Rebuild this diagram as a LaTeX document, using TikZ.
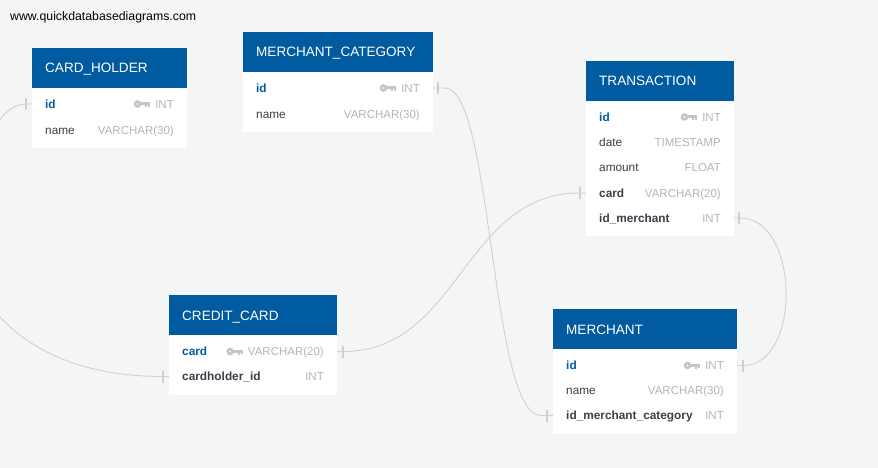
\documentclass[tikz,border=0pt]{standalone}
\usepackage{fontspec}
\setmainfont{Liberation Sans}
\definecolor{pagebg}{HTML}{F4F6F5}
\definecolor{headblue}{HTML}{005BA1}
\definecolor{rowdark}{HTML}{39404A}
\definecolor{typegrey}{HTML}{B2B6BA}
\definecolor{keygrey}{HTML}{C2C6CC}
\definecolor{linkgrey}{HTML}{CDD1D0}
\tikzset{
  x=1pt,y=-1pt,
  tablebody/.style={fill=white,draw=none,inner sep=0pt,anchor=north west,minimum height=#1},
  tablehead/.style={fill=headblue,draw=none,inner sep=0pt,anchor=north west,minimum height=40pt,minimum width=#1},
  tabletitle/.style={inner sep=0pt,anchor=base west,text=white,font=\fontsize{13.55}{16}\selectfont},
  fieldname/.style={inner sep=0pt,anchor=base west,text=rowdark,font=\fontsize{11.8}{14}\selectfont},
  fieldfk/.style={inner sep=0pt,anchor=base west,text=rowdark,font=\fontsize{11.85}{14}\selectfont\bfseries},
  fieldpk/.style={inner sep=0pt,anchor=base west,text=headblue,font=\fontsize{11.85}{14}\selectfont\bfseries},
  fieldtype/.style={inner sep=0pt,anchor=base east,text=typegrey,font=\fontsize{11.5}{14}\selectfont},
  link/.style={draw=linkgrey,line width=0.9pt},
  tick/.style={draw=linkgrey,line width=1.1pt},
  keyring/.style={draw=keygrey,line width=2.6pt,fill=none},
  keyshaft/.style={draw=keygrey,line width=3pt},
  keytooth/.style={draw=keygrey,line width=1.8pt},
}
% \keyicon{base west anchor of the type text}
\newcommand{\keyicon}[1]{%
  \path (#1) ++(-5,-4.3) coordinate (kr);
  \draw[keyring] (kr) ++(-12.6,0) circle (2.4);
  \draw[keyshaft] (kr) ++(-9.5,-0.3) -- ++(9.5,0);
  \draw[keytooth] (kr) ++(-3.8,0) -- ++(0,3.2);
  \draw[keytooth] (kr) ++(-1,0) -- ++(0,2.8);
}
\begin{document}
\begin{tikzpicture}
\useasboundingbox (0,0) rectangle (878,468);
\clip (0,0) rectangle (878,468);
\fill[pagebg] (0,0) rectangle (878,468);

% CARD_HOLDER
\node[tablebody=100pt,minimum width=155pt] (ch) at (32,48) {};
\node[tablehead=155pt] (chh) at (32,48) {};
\node[tabletitle] (cht) at (45,73) {CARD\_HOLDER};
\node[fieldpk] (chid) at (45,108.3) {id};
\node[fieldtype] (chidt) at (174,108.3) {INT};
\keyicon{chidt.base west}
\node[fieldname] (chname) at (45,134.3) {name};
\node[fieldtype] (chnamet) at (174,134.3) {VARCHAR(30)};
\coordinate (chidL) at (32,104);

% MERCHANT_CATEGORY
\node[tablebody=100pt,minimum width=190pt] (mc) at (243,32) {};
\node[tablehead=190pt] (mch) at (243,32) {};
\node[tabletitle] (mct) at (256,57) {MERCHANT\_CATEGORY};
\node[fieldpk] (mcid) at (256,92.3) {id};
\node[fieldtype] (mcidt) at (420,92.3) {INT};
\keyicon{mcidt.base west}
\node[fieldname] (mcname) at (256,118.3) {name};
\node[fieldtype] (mcnamet) at (420,118.3) {VARCHAR(30)};
\coordinate (mcidR) at (433,88);

% TRANSACTION
\node[tablebody=175pt,minimum width=148pt] (tx) at (586,61) {};
\node[tablehead=148pt] (txh) at (586,61) {};
\node[tabletitle] (txt) at (599,86) {TRANSACTION};
\node[fieldpk] (txid) at (599,121.3) {id};
\node[fieldtype] (txidt) at (721,121.3) {INT};
\keyicon{txidt.base west}
\node[fieldname] (txdate) at (599,146.3) {date};
\node[fieldtype] (txdatet) at (721,146.3) {TIMESTAMP};
\node[fieldname] (txamount) at (599,171.3) {amount};
\node[fieldtype] (txamountt) at (721,171.3) {FLOAT};
\node[fieldfk] (txcard) at (599,197.3) {card};
\node[fieldtype] (txcardt) at (721,197.3) {VARCHAR(20)};
\node[fieldfk] (txmer) at (599,222.3) {id\_merchant};
\node[fieldtype] (txmert) at (721,222.3) {INT};
\coordinate (txcardL) at (586,193);
\coordinate (txmerR) at (734,218);

% MERCHANT
\node[tablebody=125pt,minimum width=184pt] (me) at (553,309) {};
\node[tablehead=184pt] (meh) at (553,309) {};
\node[tabletitle] (met) at (566,334) {MERCHANT};
\node[fieldpk] (meid) at (566,369.8) {id};
\node[fieldtype] (meidt) at (724,369.8) {INT};
\keyicon{meidt.base west}
\node[fieldname] (mename) at (566,394.8) {name};
\node[fieldtype] (menamet) at (724,394.8) {VARCHAR(30)};
\node[fieldfk] (mecat) at (566,419.8) {id\_merchant\_category};
\node[fieldtype] (mecatt) at (724,419.8) {INT};
\coordinate (meidR) at (737,365.5);
\coordinate (mecatL) at (553,415.5);

% CREDIT_CARD
\node[tablebody=100pt,minimum width=168pt] (cc) at (169,295) {};
\node[tablehead=168pt] (cch) at (169,295) {};
\node[tabletitle] (cct) at (182,320) {CREDIT\_CARD};
\node[fieldpk] (cccard) at (182,355.8) {card};
\node[fieldtype] (cccardt) at (324,355.8) {VARCHAR(20)};
\keyicon{cccardt.base west}
\node[fieldfk] (cchold) at (182,380.8) {cardholder\_id};
\node[fieldtype] (ccholdt) at (324,380.8) {INT};
\coordinate (cccardR) at (337,351.5);
\coordinate (ccholdL) at (169,376.5);

% connectors
\draw[link] (chidL) -- ++(-6,0) .. controls (14,104) and (4,112) .. (-6,128)
  .. controls (-30,180) and (-45,260) .. (-10,305)
  .. controls (20,345) and (75,376.5) .. (163,376.5) -- (ccholdL);
\draw[link] (mcidR) -- ++(12,0) .. controls (493,88) and (490,415.5) .. (541,415.5) -- (mecatL);
\draw[link] (cccardR) -- ++(6,0) .. controls (460,351.5) and (463,193) .. (580,193) -- (txcardL);
\draw[link] (txmerR) -- ++(6,0) .. controls (800,218) and (802,365.5) .. (743,365.5) -- (meidR);

% ticks
\foreach \c/\dx in {chidL/-6,ccholdL/-6,txcardL/-6,mecatL/-6,mcidR/5,cccardR/6,txmerR/5,meidR/6}{
  \draw[tick] (\c) ++(\dx,-6) -- ++(0,12);
}

\node[inner sep=0pt,anchor=base west,text=black,font=\fontsize{12.3}{14}\selectfont] (site) at (10,20.5) {www.quickdatabasediagrams.com};
\end{tikzpicture}
\end{document}
